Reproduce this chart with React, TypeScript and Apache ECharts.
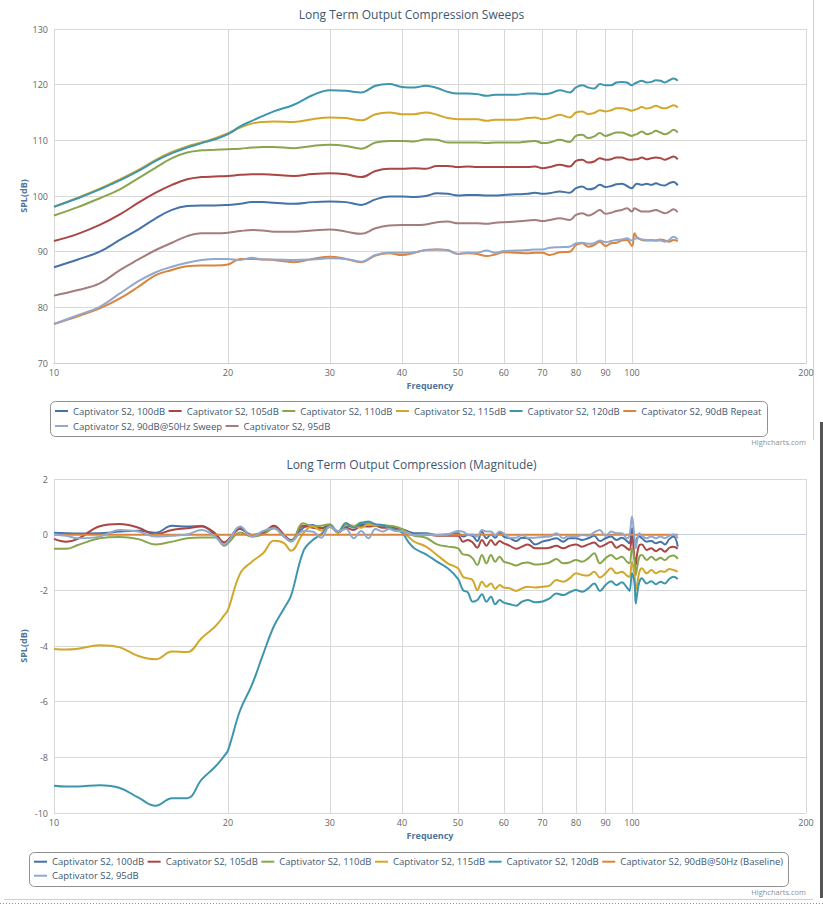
import React, { useEffect, useRef } from "react";
import * as echarts from "echarts";

const FONT = "'Open Sans', 'DejaVu Sans', sans-serif";

// ---------------- Top chart: Long Term Output Compression Sweeps ----------------
const SWEEP_FREQ = [
  10, 11, 12, 13, 14, 15, 16, 17, 18, 19, 20, 21, 22, 23, 24,
  26, 28, 30, 32, 34, 36, 38, 40,
  42, 44, 46, 48, 50,
  52, 54, 56, 58, 60,
  63, 66, 68, 70, 72,
  75, 78, 80, 82, 84, 86, 88, 90,
  92, 94, 96, 98, 100, 101, 102,
  104, 106, 108, 110, 112, 114, 116, 118, 120,
];

const SWEEP_100 = [
  87.2, 88.6, 90.0, 92.1, 94.0, 96.0, 97.5, 98.2, 98.3, 98.3, 98.4, 98.6, 98.9, 98.9, 98.8,
  98.6, 98.9, 99.0, 98.9, 98.4, 99.4, 99.9, 99.9,
  99.8, 100.0, 100.5, 100.4, 100.1,
  100.2, 100.2, 100.1, 100.1, 100.2,
  100.3, 100.4, 100.6, 100.4, 100.5,
  100.8, 100.6, 101.4, 101.7, 101.2, 101.4, 102.0, 101.6,
  101.8, 102.1, 102.2, 101.8, 101.4, 101.9, 102.2,
  102.0, 102.2, 102.0, 102.3, 102.0, 101.9, 102.3, 102.5, 101.9,
];

const SWEEP_105 = [
  91.9, 93.2, 94.8, 96.7, 98.8, 100.6, 102.0, 103.0, 103.4, 103.5, 103.6, 103.8, 103.9, 103.9, 103.8,
  103.6, 103.95, 104.1, 103.9, 103.4, 104.5, 104.9, 104.9,
  105.0, 104.9, 105.4, 105.4, 105.2,
  105.3, 105.2, 105.2, 105.2, 105.2,
  105.2, 105.2, 105.3, 105.0, 105.2,
  105.6, 105.3, 106.3, 106.5, 106.0, 106.2, 106.8, 106.5,
  106.6, 106.9, 106.9, 106.6, 106.5, 106.6, 106.6,
  106.9, 106.6, 106.8, 106.9, 106.8, 106.5, 106.8, 107.1, 106.6,
];

const SWEEP_110 = [
  96.5, 98.0, 99.6, 101.2, 103.2, 105.1, 106.8, 107.8, 108.2, 108.3, 108.4, 108.5, 108.7, 108.8, 108.8,
  108.6, 109.0, 109.2, 109.0, 108.5, 109.6, 109.9, 109.9,
  109.8, 110.2, 110.1, 109.6, 109.6,
  109.6, 109.6, 109.5, 109.6, 109.6,
  109.6, 109.8, 109.9, 109.5, 109.6,
  110.1, 109.7, 110.8, 111.0, 110.4, 110.7, 111.3, 110.8,
  111.1, 111.4, 111.4, 111.1, 110.8, 111.0, 111.1,
  111.6, 111.1, 111.3, 111.7, 111.4, 111.1, 111.4, 111.9, 111.4,
];

const SWEEP_115 = [
  98.0, 99.7, 101.3, 103.0, 104.7, 106.5, 107.9, 108.9, 109.6, 110.4, 111.3, 112.3, 113.0, 113.3, 113.4,
  113.3, 113.8, 114.1, 114.0, 113.6, 114.7, 115.0, 114.7,
  114.7, 115.0, 114.6, 114.0, 113.8,
  113.8, 113.8, 113.5, 113.7, 113.7,
  113.7, 114.0, 114.1, 113.8, 114.0,
  114.6, 114.1, 115.0, 115.2, 114.7, 114.9, 115.4, 115.2,
  115.4, 115.75, 115.75, 115.6, 115.3, 115.5, 115.6,
  116.0, 115.7, 115.9, 116.2, 115.9, 115.75, 116.0, 116.3, 115.9,
];

const SWEEP_120 = [
  98.1, 99.6, 101.2, 102.8, 104.5, 106.3, 107.7, 108.7, 109.5, 110.2, 111.1, 112.5, 113.5, 114.4, 115.2,
  116.4, 118.1, 119.0, 118.9, 118.6, 119.8, 120.1, 119.6,
  119.5, 119.8, 119.4, 118.7, 118.4,
  118.4, 118.3, 118.0, 118.2, 118.2,
  118.2, 118.4, 118.4, 118.3, 118.4,
  119.0, 118.6, 119.5, 119.9, 119.5, 119.3, 120.1, 119.9,
  119.9, 120.4, 120.5, 120.4, 119.9, 120.2, 120.4,
  120.7, 120.4, 120.5, 120.8, 120.7, 120.4, 120.8, 121.1, 120.7,
];

const SWEEP_90_REPEAT = [
  77.0, 78.4, 79.8, 81.6, 83.7, 85.8, 86.7, 87.4, 87.5, 87.5, 87.7, 88.7, 88.7, 88.6, 88.5,
  88.1, 88.7, 89.1, 88.7, 88.1, 89.3, 89.7, 89.4,
  89.8, 90.3, 90.4, 90.3, 89.6,
  89.7, 89.6, 89.2, 89.5, 89.9,
  89.8, 89.7, 89.8, 89.8, 89.4,
  89.9, 90.0, 91.2, 91.5, 90.9, 91.2, 91.8, 91.0,
  91.5, 91.6, 92.0, 92.1, 91.0, 93.3, 92.6,
  92.1, 92.0, 92.1, 92.0, 92.2, 92.0, 91.8, 92.1, 91.9,
];

const SWEEP_90_50HZ = [
  77.0, 78.6, 80.1, 82.5, 84.7, 86.3, 87.3, 88.0, 88.5, 88.7, 88.7, 88.5, 88.9, 88.6, 88.6,
  88.5, 88.6, 88.8, 88.7, 88.2, 89.4, 89.8, 89.8,
  89.9, 90.3, 90.4, 90.2, 89.6,
  89.8, 89.8, 90.2, 89.8, 90.1,
  90.2, 90.3, 90.4, 90.4, 90.7,
  90.8, 90.9, 91.5, 91.6, 91.4, 91.5, 92.0, 91.7,
  91.9, 92.1, 92.2, 92.4, 92.0, 92.3, 92.4,
  92.2, 92.1, 92.0, 92.0, 92.0, 91.8, 92.1, 92.7, 92.2,
];

const SWEEP_95 = [
  82.1, 83.1, 84.3, 86.7, 88.6, 90.3, 91.6, 92.8, 93.3, 93.3, 93.4, 93.7, 93.9, 93.8, 93.6,
  93.6, 93.8, 94.0, 93.6, 93.2, 94.2, 94.7, 94.8,
  94.8, 94.9, 95.3, 95.4, 95.1,
  95.1, 95.1, 95.0, 95.2, 95.3,
  95.4, 95.6, 95.7, 95.5, 95.7,
  96.0, 95.7, 96.6, 96.9, 96.5, 96.9, 97.5, 96.8,
  97.0, 97.3, 97.5, 97.8, 97.2, 97.8, 97.6,
  97.2, 97.2, 97.3, 97.5, 97.2, 96.9, 97.2, 97.6, 97.1,
];

// ---------------- Bottom chart: Long Term Output Compression (Magnitude) ----------------
const MAG_FREQ = [
  10, 10.5, 11, 12, 13, 14, 15, 16, 17, 18,
  19, 19.7, 20, 21, 22, 23, 24, 25, 25.7, 27,
  28, 29, 30, 31, 32, 33, 34, 35, 36, 37,
  38, 39, 40, 41, 42, 44, 46, 48, 50, 51,
  52, 53, 54, 55, 56, 57, 58, 59, 60, 61.5,
  63, 64.5, 66, 68, 70, 72, 74, 76, 78, 80,
  82, 84, 86, 88, 90, 92, 94, 96, 98, 99,
  100, 101, 101.5, 102, 103, 104, 106, 108, 110, 112,
  114, 116, 118, 120,
];

const MAG_100 = [
  0.07, 0.05, 0.04, 0.05, 0.11, 0.14, 0.07, 0.32, 0.29, 0.31,
  -0.01, -0.28, -0.23, 0.2, -0.01, 0.08, 0.29, -0.01, -0.19, 0.25,
  0.35, 0.23, 0.32, 0.11, 0.32, 0.29, 0.35, 0.41, 0.35, 0.32,
  0.29, 0.23, 0.2, 0.12, 0.05, 0.05, -0.01, 0.01, 0.05, -0.07,
  -0.01, -0.04, -0.23, 0.11, -0.13, 0.01, -0.11, 0.08, -0.07, -0.13,
  -0.23, -0.11, -0.13, -0.35, -0.25, -0.19, -0.13, -0.25, -0.13, -0.13,
  -0.19, -0.13, -0.04, -0.23, -0.13, -0.07, -0.19, -0.11, -0.23, -0.31,
  0.23, -0.25, -0.35, -0.13, -0.07, -0.13, -0.25, -0.23, -0.31, -0.25,
  -0.35, -0.16, -0.07, -0.43,
];

const MAG_105 = [
  -0.15, -0.25, -0.15, 0.3, 0.38, 0.25, 0.01, 0.17, 0.23, 0.29,
  0.05, -0.28, -0.19, 0.25, -0.04, 0.05, 0.32, -0.01, -0.23, 0.32,
  0.25, 0.23, 0.32, 0.08, 0.25, 0.17, 0.32, 0.29, 0.32, 0.25,
  0.25, 0.2, 0.17, 0.08, 0.01, 0.01, -0.04, -0.04, -0.04, -0.25,
  -0.19, -0.28, -0.47, -0.19, -0.4, -0.19, -0.37, -0.23, -0.31, -0.4,
  -0.51, -0.43, -0.35, -0.49, -0.49, -0.47, -0.4, -0.49, -0.4, -0.35,
  -0.43, -0.35, -0.28, -0.43, -0.35, -0.25, -0.47, -0.37, -0.49, -0.55,
  -0.04, -0.85, -1.09, -0.73, -0.37, -0.35, -0.55, -0.49, -0.59, -0.51,
  -0.61, -0.47, -0.43, -0.51,
];

const MAG_110 = [
  -0.51, -0.51, -0.37, -0.13, -0.08, -0.16, -0.35, -0.25, -0.13, -0.1,
  -0.1, -0.4, -0.31, 0.08, -0.07, 0.01, 0.23, -0.07, -0.23, 0.41,
  0.29, 0.32, 0.37, 0.08, 0.41, 0.29, 0.44, 0.41, 0.37, 0.35,
  0.32, 0.29, 0.2, 0.08, -0.04, -0.11, -0.35, -0.43, -0.49, -0.71,
  -0.73, -0.85, -1.09, -0.73, -1.03, -0.73, -0.97, -0.79, -0.97, -1.03,
  -1.11, -1.03, -1.0, -1.07, -1.05, -1.0, -0.87, -1.03, -1.0, -0.91,
  -0.97, -0.85, -0.67, -1.03, -0.85, -0.73, -0.87, -0.79, -0.97, -1.03,
  -0.49, -0.91, -1.45, -1.21, -0.79, -0.73, -0.91, -0.79, -0.91, -0.83,
  -0.91, -0.79, -0.75, -0.87,
];

const MAG_115 = [
  -4.11, -4.13, -4.1, -3.97, -4.05, -4.36, -4.48, -4.2, -4.22, -3.72,
  -3.3, -2.9, -2.7, -1.39, -0.97, -0.67, -0.22, -0.3, -0.58, 0.05,
  0.3, 0.15, 0.27, 0.08, 0.35, 0.32, 0.25, 0.37, 0.32, 0.35,
  0.23, 0.17, 0.14, -0.07, -0.25, -0.43, -0.73, -1.03, -1.21, -1.51,
  -1.57, -1.63, -1.99, -1.69, -1.87, -1.75, -1.95, -1.81, -1.9, -1.93,
  -2.02, -1.93, -1.87, -1.9, -1.87, -1.83, -1.63, -1.69, -1.57, -1.39,
  -1.45, -1.47, -1.33, -1.54, -1.39, -1.21, -1.39, -1.33, -1.47, -1.51,
  -0.97, -1.45, -1.99, -1.81, -1.33, -1.21, -1.39, -1.27, -1.39, -1.31,
  -1.33, -1.23, -1.27, -1.33,
];

const MAG_120 = [
  -9.02, -9.05, -9.05, -9.0, -9.1, -9.45, -9.74, -9.47, -9.47, -8.8,
  -8.34, -7.95, -7.75, -6.3, -5.4, -4.3, -3.3, -2.65, -2.2, -0.6,
  -0.2, 0.02, 0.3, 0.11, 0.41, 0.25, 0.41, 0.47, 0.37, 0.35,
  0.25, 0.17, 0.08, -0.25, -0.49, -0.71, -0.97, -1.21, -1.59, -1.99,
  -2.07, -2.41, -2.35, -2.14, -2.41, -2.23, -2.5, -2.35, -2.44, -2.5,
  -2.55, -2.41, -2.35, -2.43, -2.4, -2.29, -2.11, -2.17, -2.07, -1.99,
  -2.05, -1.93, -1.75, -2.02, -1.81, -1.67, -1.81, -1.71, -1.9, -2.02,
  -1.39, -1.75, -2.47, -2.17, -1.69, -1.57, -1.75, -1.67, -1.78, -1.69,
  -1.75, -1.59, -1.51, -1.59,
];

const MAG_95 = [
  0.01, -0.04, -0.13, -0.07, 0.17, 0.11, -0.07, -0.04, 0.01, 0.17,
  -0.07, -0.35, -0.25, 0.29, -0.07, 0.13, 0.23, -0.07, -0.25, 0.13,
  0.11, -0.11, 0.29, 0.13, 0.2, -0.13, 0.13, -0.13, 0.2, 0.11,
  0.2, 0.13, 0.12, 0.05, -0.01, 0.01, -0.01, 0.01, 0.13, 0.11,
  0.01, 0.01, -0.07, 0.17, 0.11, 0.11, -0.01, 0.11, 0.05, -0.11,
  -0.11, -0.01, -0.11, -0.11, -0.08, -0.07, 0.05, -0.13, -0.04, -0.07,
  -0.01, -0.04, 0.08, 0.17, -0.05, 0.11, 0.05, 0.05, -0.13, -0.01,
  0.65, -0.13, -0.49, -0.25, 0.05, -0.04, -0.13, -0.07, -0.13, -0.07,
  -0.13, -0.04, 0.01, -0.13,
];

const BASELINE_FREQ = [10, 120];
const BASELINE = [0, 0];

const X_TICKS = [10, 20, 30, 40, 50, 60, 70, 80, 90, 100, 200];

const C_100 = "#4572A7";
const C_105 = "#AA4643";
const C_110 = "#89A54E";
const C_115 = "#D2A72B";
const C_120 = "#3D96AE";
const C_ORANGE = "#DB843D";
const C_LIGHT = "#92A8CD";
const C_MAUVE = "#A47D7C";

const LEGEND_ICON = "path://M0,0L13,0L13,2L0,2Z";

const pairs = (freq: number[], vals: number[]) => freq.map((f, i) => [f, vals[i]]);

type SeriesDef = { name: string; color: string; data: number[][] };

function buildOption(cfg: {
  title: string;
  titleTop: number;
  gridTop: number;
  yMin: number;
  yMax: number;
  yInterval: number;
  series: SeriesDef[];
  rows: { left: number; top: number; names: string[] }[];
  box: { x: number; y: number; w: number; h: number };
  creditY: number;
  extra: any[];
}) {
  const legendCommon = {
    orient: "horizontal",
    padding: 0,
    icon: LEGEND_ICON,
    symbolKeepAspect: true,
    itemWidth: 13,
    itemHeight: 12,
    itemGap: 3.5,
    selectedMode: false,
    textStyle: { fontFamily: FONT, fontSize: 9.5, color: "#3E576F", lineHeight: 12 },
  };
  return {
    animation: false,
    backgroundColor: "#ffffff",
    title: {
      text: cfg.title,
      left: "center",
      top: cfg.titleTop,
      textStyle: { fontFamily: FONT, fontSize: 12, fontWeight: "normal", color: "#3E576F" },
    },
    grid: { left: 54, top: cfg.gridTop, width: 752, height: 334, containLabel: false, outerBoundsMode: "none" },
    xAxis: {
      type: "log",
      logBase: 10,
      min: 10,
      max: 200,
      name: "Frequency",
      nameLocation: "middle",
      nameGap: 18,
      nameMoveOverlap: false,
      nameTextStyle: { fontFamily: FONT, fontSize: 9, fontWeight: "bold", color: "#4d759e" },
      axisLine: { show: true, lineStyle: { color: "#C0D0E0", width: 1 } },
      axisTick: { show: false, customValues: X_TICKS },
      axisLabel: {
        customValues: X_TICKS,
        formatter: (v: number) => String(Math.round(v)),
        fontFamily: FONT,
        fontSize: 9,
        color: "#666666",
        margin: 5,
        hideOverlap: false,
      },
      splitLine: { show: true, lineStyle: { color: "#D8D8D8", width: 1 } },
      minorTick: { show: false },
      minorSplitLine: { show: false },
    },
    yAxis: {
      type: "value",
      min: cfg.yMin,
      max: cfg.yMax,
      interval: cfg.yInterval,
      name: "SPL(dB)",
      nameLocation: "middle",
      nameGap: 26,
      nameRotate: 90,
      nameMoveOverlap: false,
      nameTextStyle: { fontFamily: FONT, fontSize: 9, fontWeight: "bold", color: "#4d759e" },
      axisLine: { show: false },
      axisTick: { show: false },
      axisLabel: { fontFamily: FONT, fontSize: 9, color: "#666666", margin: 6 },
      splitLine: { show: true, lineStyle: { color: "#D8D8D8", width: 1 } },
    },
    legend: cfg.rows.map((r) => ({ ...legendCommon, left: r.left, top: r.top, data: r.names })),
    series: cfg.series.map((s) => ({
      type: "line",
      name: s.name,
      data: s.data,
      color: s.color,
      itemStyle: { color: s.color },
      symbol: "none",
      showSymbol: false,
      smooth: 0.4,
      lineStyle: { width: 2, color: s.color },
      emphasis: { disabled: true },
      silent: true,
    })),
    graphic: [
      {
        type: "rect",
        silent: true,
        shape: { x: cfg.box.x + 0.5, y: cfg.box.y + 0.5, width: cfg.box.w, height: cfg.box.h, r: 5 },
        style: { fill: "none", stroke: "#909090", lineWidth: 1 },
      },
      {
        type: "text",
        silent: true,
        x: 806,
        y: cfg.creditY,
        style: {
          text: "Highcharts.com",
          fill: "#909090",
          fontFamily: FONT,
          fontSize: 7.5,
          align: "right",
          verticalAlign: "middle",
        },
      },
      ...cfg.extra,
    ],
  };
}

const N100 = "Captivator S2, 100dB";
const N105 = "Captivator S2, 105dB";
const N110 = "Captivator S2, 110dB";
const N115 = "Captivator S2, 115dB";
const N120 = "Captivator S2, 120dB";
const N90R = "Captivator S2, 90dB Repeat";
const N90S = "Captivator S2, 90dB@50Hz Sweep";
const N95 = "Captivator S2, 95dB";
const N90B = "Captivator S2, 90dB@50Hz (Baseline)";

const topOption = buildOption({
  title: "Long Term Output Compression Sweeps",
  titleTop: 3,
  gridTop: 29,
  yMin: 70,
  yMax: 130,
  yInterval: 10,
  series: [
    { name: N100, color: C_100, data: pairs(SWEEP_FREQ, SWEEP_100) },
    { name: N105, color: C_105, data: pairs(SWEEP_FREQ, SWEEP_105) },
    { name: N110, color: C_110, data: pairs(SWEEP_FREQ, SWEEP_110) },
    { name: N115, color: C_115, data: pairs(SWEEP_FREQ, SWEEP_115) },
    { name: N120, color: C_120, data: pairs(SWEEP_FREQ, SWEEP_120) },
    { name: N90R, color: C_ORANGE, data: pairs(SWEEP_FREQ, SWEEP_90_REPEAT) },
    { name: N90S, color: C_LIGHT, data: pairs(SWEEP_FREQ, SWEEP_90_50HZ) },
    { name: N95, color: C_MAUVE, data: pairs(SWEEP_FREQ, SWEEP_95) },
  ],
  rows: [
    { left: 55, top: 405, names: [N100, N105, N110, N115, N120, N90R] },
    { left: 55, top: 420, names: [N90S, N95] },
  ],
  box: { x: 50, y: 401, w: 717, h: 35 },
  creditY: 442,
  extra: [
    {
      type: "line",
      silent: true,
      shape: { x1: 813.5, y1: 0, x2: 813.5, y2: 440 },
      style: { stroke: "#d0d0d0", lineWidth: 1 },
    },
    {
      type: "rect",
      silent: true,
      shape: { x: 820, y: 422, width: 3, height: 26 },
      style: { fill: "#555555" },
    },
  ],
});

const bottomOption = buildOption({
  title: "Long Term Output Compression (Magnitude)",
  titleTop: 5,
  gridTop: 31,
  yMin: -10,
  yMax: 2,
  yInterval: 2,
  series: [
    { name: N100, color: C_100, data: pairs(MAG_FREQ, MAG_100) },
    { name: N105, color: C_105, data: pairs(MAG_FREQ, MAG_105) },
    { name: N110, color: C_110, data: pairs(MAG_FREQ, MAG_110) },
    { name: N115, color: C_115, data: pairs(MAG_FREQ, MAG_115) },
    { name: N120, color: C_120, data: pairs(MAG_FREQ, MAG_120) },
    { name: N90B, color: C_ORANGE, data: pairs(BASELINE_FREQ, BASELINE) },
    { name: N95, color: C_LIGHT, data: pairs(MAG_FREQ, MAG_95) },
  ],
  rows: [
    { left: 34, top: 407.7, names: [N100, N105, N110, N115, N120, N90B] },
    { left: 34, top: 421.7, names: [N95] },
  ],
  box: { x: 29, y: 404, w: 759, h: 34 },
  creditY: 444,
  extra: [
    {
      type: "line",
      silent: true,
      shape: { x1: 4, y1: 451.5, x2: 813, y2: 451.5 },
      style: { stroke: "#d0d0d0", lineWidth: 1 },
    },
    {
      type: "line",
      silent: true,
      shape: { x1: 0, y1: 455.5, x2: 823, y2: 455.5 },
      style: { stroke: "#909090", lineWidth: 1, lineDash: [1, 2] },
    },
    {
      type: "rect",
      silent: true,
      shape: { x: 820, y: 0, width: 3, height: 450 },
      style: { fill: "#555555" },
    },
  ],
});

function ChartPanel({ option, height }: { option: any; height: number }) {
  const ref = useRef<HTMLDivElement>(null);
  useEffect(() => {
    if (!ref.current) return;
    const chart = echarts.init(ref.current, null, { renderer: "svg" });
    chart.setOption(option);
    return () => chart.dispose();
  }, [option]);
  return <div ref={ref} style={{ width: 823, height }} />;
}

export default function App() {
  return (
    <div style={{ position: "absolute", left: 0, top: 0, width: 823, height: 905, background: "#ffffff" }}>
      <ChartPanel option={topOption} height={448} />
      <ChartPanel option={bottomOption} height={457} />
    </div>
  );
}
